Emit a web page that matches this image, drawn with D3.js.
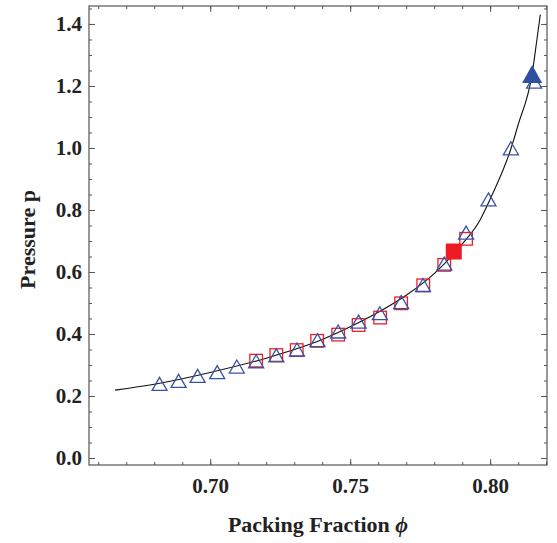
<!DOCTYPE html>
<html>
<head>
<meta charset="utf-8">
<script src="https://cdn.jsdelivr.net/npm/d3@7"></script>
<style>
  body { margin: 0; background: #fff; }
  text { font-family: "Liberation Serif", "Times New Roman", serif; font-weight: bold; fill: #222; }
</style>
</head>
<body>
<svg id="chart"></svg>
<script>
// Pressure vs packing fraction

const width = 557;
const height = 543;
const margin = { top: 6, right: 10, bottom: 78, left: 89 };

// simulation (open triangles)
const triPhi = [0.6819, 0.6887, 0.6955, 0.7025, 0.7095, 0.7164, 0.7236, 0.7310, 0.7383, 0.7457,
                0.7530, 0.7606, 0.7682, 0.7760, 0.7836, 0.7914, 0.7994, 0.8074, 0.8157];
const triP   = [0.239, 0.249, 0.265, 0.277, 0.295, 0.312, 0.331, 0.350, 0.380, 0.408,
                0.440, 0.467, 0.503, 0.558, 0.627, 0.727, 0.834, 0.999, 1.214];

// second data set (open squares)
const sqPhi = [0.7164, 0.7236, 0.7309, 0.7382, 0.7457, 0.7530, 0.7607, 0.7682, 0.7761, 0.7836, 0.7914];
const sqP   = [0.314, 0.332, 0.348, 0.378, 0.398, 0.429, 0.453, 0.499, 0.557, 0.623, 0.707];

// highlighted points
const bigSquare = { phi: 0.7870, p: 0.666 };
const bigTriangle = { phi: 0.8150, p: 1.239 };

// fitted curve
const curvePhi = [0.666, 0.680, 0.700, 0.720, 0.740, 0.750, 0.760, 0.770, 0.780, 0.790,
                  0.7964, 0.800, 0.8075, 0.810, 0.815, 0.8167, 0.8179];
const curveP   = [0.219, 0.238, 0.276, 0.322, 0.382, 0.423, 0.470, 0.525, 0.595, 0.690,
                  0.768, 0.835, 1.000, 1.075, 1.240, 1.350, 1.430];

const xMajor = [0.70, 0.75, 0.80];
const xMinor = d3.range(66, 83).map(d => d / 100);
const yMajor = [0.0, 0.2, 0.4, 0.6, 0.8, 1.0, 1.2, 1.4];
const yMinor = d3.range(0, 30).map(d => d * 0.05);

const blue = "#3953a4";
const red = "#ed1c24";
const frameColor = "#555";

const svg = d3.select("#chart")
    .attr("width", width)
    .attr("height", height);

const x = d3.scaleLinear()
    .domain([0.6567, 0.8203])
    .range([margin.left, width - margin.right]);

const y = d3.scaleLinear()
    .domain([-0.0226, 1.458])
    .range([height - margin.bottom, margin.top]);

const x0 = margin.left, x1 = width - margin.right;
const y0 = height - margin.bottom, y1 = margin.top;

// axes: ticks pointing inward on all four sides
function styleAxis(g) {
    g.select(".domain").remove();
    g.selectAll(".tick line").attr("stroke", frameColor);
}

svg.append("g")
    .attr("transform", `translate(0,${y0})`)
    .call(d3.axisBottom(x).tickValues(xMinor).tickSize(-3).tickFormat(""))
    .call(styleAxis);
svg.append("g")
    .attr("transform", `translate(0,${y0})`)
    .call(d3.axisBottom(x).tickValues(xMajor).tickSize(-6).tickPadding(13).tickFormat(d3.format(".2f")))
    .call(styleAxis);
svg.append("g")
    .attr("transform", `translate(0,${y1})`)
    .call(d3.axisTop(x).tickValues(xMinor).tickSize(-3).tickFormat(""))
    .call(styleAxis);
svg.append("g")
    .attr("transform", `translate(0,${y1})`)
    .call(d3.axisTop(x).tickValues(xMajor).tickSize(-6).tickFormat(""))
    .call(styleAxis);

svg.append("g")
    .attr("transform", `translate(${x0},0)`)
    .call(d3.axisLeft(y).tickValues(yMinor).tickSize(-3).tickFormat(""))
    .call(styleAxis);
svg.append("g")
    .attr("transform", `translate(${x0},0)`)
    .call(d3.axisLeft(y).tickValues(yMajor).tickSize(-6).tickPadding(7).tickFormat(d3.format(".1f")))
    .call(styleAxis);
svg.append("g")
    .attr("transform", `translate(${x1},0)`)
    .call(d3.axisRight(y).tickValues(yMinor).tickSize(-3).tickFormat(""))
    .call(styleAxis);
svg.append("g")
    .attr("transform", `translate(${x1},0)`)
    .call(d3.axisRight(y).tickValues(yMajor).tickSize(-6).tickFormat(""))
    .call(styleAxis);

svg.selectAll(".tick text")
    .attr("font-family", "Liberation Serif, serif")
    .attr("font-weight", "bold")
    .attr("font-size", 21)
    .attr("fill", "#222");

// frame
svg.append("rect")
    .attr("x", x0).attr("y", y1)
    .attr("width", x1 - x0).attr("height", y0 - y1)
    .attr("fill", "none")
    .attr("stroke", frameColor)
    .attr("stroke-width", 1.2);

// fitted curve
const line = d3.line()
    .x((d, i) => x(curvePhi[i]))
    .y((d, i) => y(curveP[i]))
    .curve(d3.curveMonotoneX);

svg.append("path")
    .datum(curvePhi)
    .attr("d", line)
    .attr("fill", "none")
    .attr("stroke", "#111")
    .attr("stroke-width", 1.1);

// triangle path centred on its bounding box
function triPath(w, h) {
    return `M0,${-h / 2}L${w / 2},${h / 2}L${-w / 2},${h / 2}Z`;
}

// open squares
svg.append("g")
    .selectAll("rect")
    .data(sqPhi)
    .join("rect")
    .attr("x", (d, i) => x(d) - 6.3)
    .attr("y", (d, i) => y(sqP[i]) - 6.3)
    .attr("width", 12.6)
    .attr("height", 12.6)
    .attr("fill", "none")
    .attr("stroke", red)
    .attr("stroke-width", 1.3);

// open triangles
svg.append("g")
    .selectAll("path")
    .data(triPhi)
    .join("path")
    .attr("transform", (d, i) => `translate(${x(d)},${y(triP[i])})`)
    .attr("d", triPath(15, 13))
    .attr("fill", "none")
    .attr("stroke", blue)
    .attr("stroke-width", 1.3);

// highlighted points
svg.append("rect")
    .attr("x", x(bigSquare.phi) - 8)
    .attr("y", y(bigSquare.p) - 8)
    .attr("width", 16)
    .attr("height", 16)
    .attr("fill", red);

svg.append("path")
    .attr("transform", `translate(${x(bigTriangle.phi)},${y(bigTriangle.p)})`)
    .attr("d", triPath(20, 18))
    .attr("fill", "#2f4f9f");

// axis titles
svg.append("text")
    .attr("x", (x0 + x1) / 2)
    .attr("y", 532)
    .attr("text-anchor", "middle")
    .attr("font-size", 22)
    .text("Packing Fraction ")
    .append("tspan")
    .attr("font-style", "italic")
    .text("\u03D5");

svg.append("text")
    .attr("transform", `translate(35,${(y0 + y1) / 2 + 4}) rotate(-90)`)
    .attr("text-anchor", "middle")
    .attr("font-size", 22)
    .text("Pressure p");
</script>
</body>
</html>
